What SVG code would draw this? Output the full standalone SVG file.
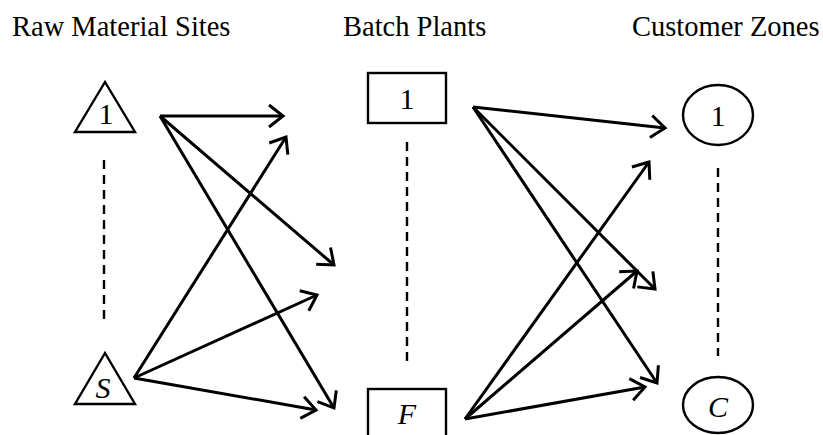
<svg xmlns="http://www.w3.org/2000/svg" width="823" height="435" viewBox="0 0 823 435">
<style>
.hdr{font-family:"Liberation Serif","Times New Roman",serif;font-size:28.5px;fill:#000}
.lbl{font-family:"Liberation Serif","Times New Roman",serif;font-size:30px;fill:#000;text-anchor:middle}
.it{font-style:italic}
.shape{fill:#fff;stroke:#000;stroke-width:2.4}
.dash{stroke:#000;stroke-width:2.4;stroke-dasharray:9 6;fill:none}
.arr{stroke:#000;stroke-width:3;fill:none;marker-end:url(#ah)}
</style>
<defs>
<marker id="ah" markerUnits="userSpaceOnUse" markerWidth="24" markerHeight="30" viewBox="-20 -15 24 30" refX="0" refY="0" orient="auto">
<path d="M-14,-11 L0,0 L-14,11" fill="none" stroke="#000" stroke-width="3" stroke-linejoin="miter"/>
</marker>
</defs>
<rect width="823" height="435" fill="#fff"/>
<g id="headers">
<text class="hdr" x="12" y="36">Raw Material Sites</text>
<text class="hdr" x="343" y="36">Batch Plants</text>
<text class="hdr" x="632" y="36">Customer Zones</text>
</g>
<g id="raw1">
<polygon class="shape" points="105,82 75,132 135,132"/>
<text class="lbl" x="106" y="124">1</text>
</g>
<g id="rawS">
<polygon class="shape" points="105,353 75,404 135,404"/>
<text class="lbl it" x="103" y="398">S</text>
</g>
<g id="plant1">
<rect class="shape" x="368" y="73" width="78" height="50"/>
<text class="lbl" x="407" y="109">1</text>
</g>
<g id="plantF">
<rect class="shape" x="368" y="389" width="78" height="60"/>
<text class="lbl it" x="407" y="424">F</text>
</g>
<g id="cust1">
<ellipse class="shape" cx="718" cy="115" rx="35" ry="30"/>
<text class="lbl" x="718" y="126">1</text>
</g>
<g id="custC">
<ellipse class="shape" cx="718" cy="405" rx="35" ry="28"/>
<text class="lbl it" x="718" y="417">C</text>
</g>
<g id="ellipsis">
<line class="dash" x1="104" y1="160" x2="104" y2="323"/>
<line class="dash" x1="407" y1="142" x2="407" y2="366"/>
<line class="dash" x1="718" y1="168" x2="718" y2="356"/>
</g>
<g id="connectors">
<line class="arr" x1="160" y1="116" x2="283" y2="116"/>
<line class="arr" x1="160" y1="116" x2="334" y2="265"/>
<line class="arr" x1="160" y1="116" x2="334" y2="408"/>
<line class="arr" x1="134" y1="378" x2="286" y2="137"/>
<line class="arr" x1="134" y1="378" x2="317" y2="295"/>
<line class="arr" x1="134" y1="378" x2="316" y2="410"/>
<line class="arr" x1="473" y1="107" x2="665" y2="128"/>
<line class="arr" x1="473" y1="107" x2="655" y2="289"/>
<line class="arr" x1="473" y1="107" x2="657" y2="383"/>
<line class="arr" x1="465" y1="419" x2="649" y2="162"/>
<line class="arr" x1="465" y1="419" x2="637" y2="271"/>
<line class="arr" x1="465" y1="419" x2="645" y2="387"/>
</g>
</svg>
